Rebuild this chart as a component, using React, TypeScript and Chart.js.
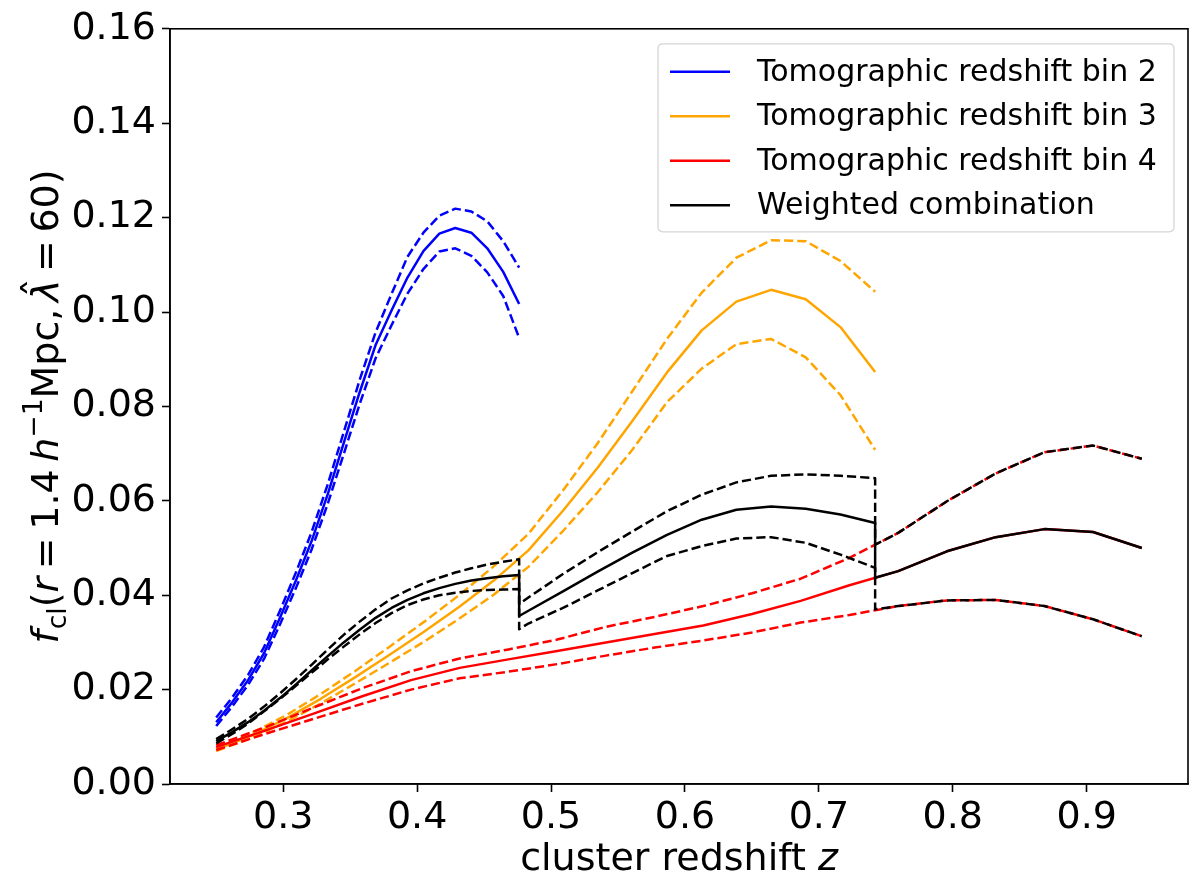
import React, { useEffect, useRef } from "react";
import { Chart, registerables } from "chart.js";

Chart.register(...registerables);

// ---------------- data ----------------
const zBin2 = [0.25, 0.2619, 0.2738, 0.2857, 0.2976, 0.3095, 0.3214, 0.3333, 0.3452, 0.3571, 0.369, 0.3809, 0.3928, 0.4047, 0.4166, 0.4285, 0.4405, 0.4524, 0.4643, 0.4762];
const bin2Mid = [0.0131, 0.0173, 0.022, 0.0277, 0.0352, 0.0431, 0.0516, 0.0614, 0.0722, 0.083, 0.093, 0.1003, 0.1073, 0.1129, 0.1166, 0.1178, 0.1168, 0.1135, 0.1085, 0.1017];
const bin2Hi = [0.0141, 0.0183, 0.0231, 0.029, 0.0367, 0.0448, 0.0535, 0.0635, 0.0745, 0.0856, 0.0957, 0.1038, 0.1117, 0.1168, 0.1204, 0.1219, 0.1213, 0.1192, 0.115, 0.1094];
const bin2Lo = [0.0123, 0.0164, 0.021, 0.0265, 0.0338, 0.0415, 0.0498, 0.0594, 0.0699, 0.0805, 0.0902, 0.0972, 0.1039, 0.1091, 0.1128, 0.1135, 0.1119, 0.1084, 0.1034, 0.0945];

const zBin3 = [0.25, 0.2759, 0.3018, 0.3277, 0.3536, 0.3795, 0.4054, 0.4313, 0.4572, 0.4831, 0.5089, 0.5348, 0.5607, 0.5866, 0.6125, 0.6384, 0.6643, 0.6902, 0.7161, 0.742];
const bin3Mid = [0.0073, 0.0102, 0.0138, 0.018, 0.0226, 0.0274, 0.0323, 0.0375, 0.0431, 0.0495, 0.0579, 0.067, 0.0769, 0.0872, 0.0961, 0.1022, 0.1047, 0.1027, 0.0968, 0.0873];
const bin3Hi = [0.0076, 0.0107, 0.0145, 0.019, 0.0239, 0.0291, 0.0344, 0.04, 0.0461, 0.053, 0.0622, 0.0722, 0.0832, 0.0943, 0.1041, 0.1115, 0.1152, 0.115, 0.1108, 0.1043];
const bin3Lo = [0.007, 0.0097, 0.0131, 0.017, 0.0213, 0.0257, 0.0302, 0.035, 0.0401, 0.046, 0.0536, 0.0618, 0.0708, 0.0809, 0.088, 0.0932, 0.0943, 0.0904, 0.0824, 0.0708];

const zBin4 = [0.25, 0.2864, 0.3227, 0.3591, 0.3955, 0.4318, 0.4682, 0.5046, 0.541, 0.5773, 0.6137, 0.6501, 0.6864, 0.7228, 0.7592, 0.7956, 0.832, 0.8684, 0.9047, 0.9411];
const bin4Mid = [0.0078, 0.0113, 0.0149, 0.0186, 0.022, 0.0246, 0.0264, 0.0282, 0.03, 0.0318, 0.0336, 0.036, 0.0388, 0.0421, 0.0451, 0.0493, 0.0523, 0.054, 0.0534, 0.05];
const bin4Hi = [0.0082, 0.012, 0.0162, 0.0203, 0.0239, 0.0266, 0.0285, 0.0306, 0.0333, 0.0354, 0.0377, 0.0404, 0.0435, 0.0479, 0.0532, 0.0599, 0.0658, 0.0703, 0.0717, 0.0689];
const bin4Lo = [0.0072, 0.0106, 0.0138, 0.017, 0.02, 0.0224, 0.0238, 0.0254, 0.0272, 0.0289, 0.0304, 0.0321, 0.0342, 0.0358, 0.0377, 0.0389, 0.039, 0.0377, 0.0349, 0.0313];

const zComb = [0.25, 0.2619, 0.2738, 0.2857, 0.2976, 0.3095, 0.3214, 0.3333, 0.3452, 0.3571, 0.369, 0.3809, 0.3928, 0.4047, 0.4166, 0.4285, 0.4405, 0.4524, 0.4643, 0.4762,
  0.4762, 0.4831, 0.5089, 0.5348, 0.5607, 0.5866, 0.6125, 0.6384, 0.6643, 0.6902, 0.7161, 0.742,
  0.742, 0.7592, 0.7956, 0.832, 0.8684, 0.9047, 0.9411];
const combMid = [0.0091, 0.011, 0.0131, 0.0155, 0.0182, 0.0211, 0.0241, 0.0271, 0.03, 0.0327, 0.0352, 0.0373, 0.039, 0.0404, 0.0415, 0.0424, 0.0431, 0.0436, 0.044, 0.0443,
  0.0356, 0.0367, 0.0408, 0.045, 0.049, 0.0528, 0.056, 0.0581, 0.0588, 0.0583, 0.0571, 0.0553,
  0.0437, 0.0451, 0.0493, 0.0523, 0.054, 0.0534, 0.05];
const combHi = [0.0095, 0.0116, 0.0138, 0.0164, 0.0192, 0.0222, 0.0253, 0.0285, 0.0316, 0.0344, 0.037, 0.0393, 0.041, 0.0425, 0.0437, 0.0448, 0.0457, 0.0465, 0.0471, 0.0476,
  0.0381, 0.0395, 0.0445, 0.0491, 0.0535, 0.0578, 0.0613, 0.0639, 0.0653, 0.0656, 0.0653, 0.0648,
  0.0507, 0.0532, 0.0599, 0.0658, 0.0703, 0.0717, 0.0689];
const combLo = [0.0086, 0.0106, 0.0128, 0.0154, 0.018, 0.0208, 0.0236, 0.0264, 0.0291, 0.0317, 0.0341, 0.0362, 0.0379, 0.0391, 0.04, 0.0405, 0.0409, 0.0411, 0.0412, 0.0413,
  0.0328, 0.034, 0.0373, 0.041, 0.0447, 0.0483, 0.0504, 0.052, 0.0523, 0.0511, 0.0486, 0.0458,
  0.037, 0.0377, 0.0389, 0.039, 0.0377, 0.0349, 0.0313];

const xTicks = [0.3, 0.4, 0.5, 0.6, 0.7, 0.8, 0.9];
const yTicks = [0, 0.02, 0.04, 0.06, 0.08, 0.1, 0.12, 0.14, 0.16];
const legendLabels = [
  "Tomographic redshift bin 2",
  "Tomographic redshift bin 3",
  "Tomographic redshift bin 4",
  "Weighted combination",
];
const seriesColors = ["#0000ff", "#ffa500", "#ff0000", "#000000"];

// ---------------- helpers ----------------
const FONT = "'DejaVu Sans', sans-serif";
const TICK_PX = 38;
const LEG_PX = 30;
const LW = 2.5;
const DASH = [9.2, 4];

function pts(xs: number[], ys: number[]) {
  return xs.map((x, i) => ({ x, y: ys[i] }));
}

function ds(label: string, xs: number[], ys: number[], color: string, dashed: boolean, order: number) {
  return {
    label,
    data: pts(xs, ys),
    borderColor: color,
    backgroundColor: color,
    borderWidth: LW,
    borderDash: dashed ? DASH : [],
    pointRadius: 0,
    pointHoverRadius: 0,
    tension: 0,
    fill: false,
    order,
    borderCapStyle: "butt" as const,
    borderJoinStyle: "round" as const,
  };
}

type Seg = { t: string; it?: boolean; sc?: "sub" | "sup"; hat?: boolean; dx?: number };

function drawRich(ctx: CanvasRenderingContext2D, segs: Seg[], size: number, cx: number, cy: number, rot: number) {
  const fontFor = (s: Seg) => {
    const sz = s.sc ? size * 0.7 : size;
    return `${s.it ? "oblique " : ""}${sz}px ${FONT}`;
  };
  let total = 0;
  for (const s of segs) {
    ctx.font = fontFor(s);
    total += ctx.measureText(s.t).width + (s.dx || 0) * size;
  }
  ctx.save();
  ctx.translate(cx, cy);
  ctx.rotate(rot);
  ctx.fillStyle = "#000";
  ctx.textBaseline = "alphabetic";
  ctx.textAlign = "left";
  let x = -total / 2;
  const base = size * 0.36;
  for (const s of segs) {
    ctx.font = fontFor(s);
    const w = ctx.measureText(s.t).width;
    let y = base;
    if (s.sc === "sub") y += size * 0.22;
    if (s.sc === "sup") y -= size * 0.4;
    ctx.fillText(s.t, x, y);
    if (s.hat) {
      ctx.font = `${size}px ${FONT}`;
      const hw = ctx.measureText("\u02c6").width;
      ctx.fillText("\u02c6", x + w / 2 - hw / 2 + size * 0.08, y - size * 0.2);
    }
    x += w + (s.dx || 0) * size;
  }
  ctx.restore();
}

const yTitle: Seg[] = [
  { t: "f", it: true, dx: 0.02 },
  { t: "cl", sc: "sub" },
  { t: "(" },
  { t: "r", it: true, dx: 0.2 },
  { t: "=", dx: 0.2 },
  { t: "1.4", dx: 0.2 },
  { t: "h", it: true },
  { t: "\u22121", sc: "sup" },
  { t: "Mpc,", dx: 0.17 },
  { t: "\u03bb", it: true, hat: true, dx: 0.2 },
  { t: "=", dx: 0.2 },
  { t: "60)" },
];
const xTitle: Seg[] = [{ t: "cluster redshift " }, { t: "z", it: true }];

const framePlugin = {
  id: "frameAndText",
  afterDraw(chart: any) {
    const { ctx, chartArea } = chart;
    const { left, right, top, bottom } = chartArea;
    ctx.save();
    // spines
    ctx.strokeStyle = "#000";
    ctx.lineWidth = 1.6;
    ctx.strokeRect(left, top, right - left, bottom - top);

    // legend
    const bx = left + (658 - 170);
    const by = top + 15;
    const bw = 1174 - 658;
    const bh = 188;
    ctx.beginPath();
    const r = 5;
    ctx.moveTo(bx + r, by);
    ctx.lineTo(bx + bw - r, by);
    ctx.quadraticCurveTo(bx + bw, by, bx + bw, by + r);
    ctx.lineTo(bx + bw, by + bh - r);
    ctx.quadraticCurveTo(bx + bw, by + bh, bx + bw - r, by + bh);
    ctx.lineTo(bx + r, by + bh);
    ctx.quadraticCurveTo(bx, by + bh, bx, by + bh - r);
    ctx.lineTo(bx, by + r);
    ctx.quadraticCurveTo(bx, by, bx + r, by);
    ctx.closePath();
    ctx.fillStyle = "rgba(255,255,255,0.8)";
    ctx.fill();
    ctx.strokeStyle = "#d6d6d6";
    ctx.lineWidth = 1.3;
    ctx.stroke();

    ctx.font = `${LEG_PX}px ${FONT}`;
    ctx.textBaseline = "middle";
    ctx.textAlign = "left";
    legendLabels.forEach((lab, i) => {
      const cy = by + 28 + i * 44.5;
      ctx.strokeStyle = seriesColors[i];
      ctx.lineWidth = LW;
      ctx.setLineDash([]);
      ctx.beginPath();
      ctx.moveTo(bx + 12, cy);
      ctx.lineTo(bx + 72, cy);
      ctx.stroke();
      ctx.fillStyle = "#000";
      ctx.fillText(lab, bx + 99, cy + 1);
    });
    ctx.restore();

    // axis titles
    drawRich(ctx, xTitle, TICK_PX, (left + right) / 2, 856, 0);
    drawRich(ctx, yTitle, TICK_PX, 44, (top + bottom) / 2, -Math.PI / 2);
  },
};

export default function App() {
  const ref = useRef<HTMLCanvasElement | null>(null);
  useEffect(() => {
    document.body.style.margin = "0";
    const canvas = ref.current!;
    const chart = new Chart(canvas, {
      type: "line",
      data: {
        datasets: [
          ds(legendLabels[0], zBin2, bin2Mid, seriesColors[0], false, 3),
          ds("bin2 hi", zBin2, bin2Hi, seriesColors[0], true, 3),
          ds("bin2 lo", zBin2, bin2Lo, seriesColors[0], true, 3),
          ds(legendLabels[1], zBin3, bin3Mid, seriesColors[1], false, 2),
          ds("bin3 hi", zBin3, bin3Hi, seriesColors[1], true, 2),
          ds("bin3 lo", zBin3, bin3Lo, seriesColors[1], true, 2),
          ds(legendLabels[2], zBin4, bin4Mid, seriesColors[2], false, 1),
          ds("bin4 hi", zBin4, bin4Hi, seriesColors[2], true, 1),
          ds("bin4 lo", zBin4, bin4Lo, seriesColors[2], true, 1),
          ds(legendLabels[3], zComb, combMid, seriesColors[3], false, 0),
          ds("comb hi", zComb, combHi, seriesColors[3], true, 0),
          ds("comb lo", zComb, combLo, seriesColors[3], true, 0),
        ],
      },
      options: {
        animation: false,
        responsive: false,
        maintainAspectRatio: false,
        devicePixelRatio: 1,
        layout: { padding: { left: 0, right: 12, top: 25, bottom: 0 } },
        plugins: { legend: { display: false }, tooltip: { enabled: false } },
        scales: {
          x: {
            type: "linear",
            min: 0.2155,
            max: 0.9756,
            afterBuildTicks: (s: any) => {
              s.ticks = xTicks.map((v) => ({ value: v }));
            },
            afterFit: (s: any) => {
              s.height = 890 - 784;
            },
            ticks: {
              color: "#000",
              font: { family: FONT, size: TICK_PX },
              padding: 3,
              maxRotation: 0,
              autoSkip: false,
              callback: (v: any) => Number(v).toFixed(1),
            },
            grid: { drawOnChartArea: false, drawTicks: true, tickLength: 8, tickWidth: 1.6, color: "#000" },
            border: { display: true, color: "#000", width: 1.6 },
          },
          y: {
            type: "linear",
            min: 0,
            max: 0.16,
            afterBuildTicks: (s: any) => {
              s.ticks = yTicks.map((v) => ({ value: v }));
            },
            afterFit: (s: any) => {
              s.width = 170;
            },
            ticks: {
              color: "#000",
              font: { family: FONT, size: TICK_PX },
              padding: 6,
              autoSkip: false,
              callback: (v: any) => Number(v).toFixed(2),
            },
            grid: { drawOnChartArea: false, drawTicks: true, tickLength: 8, tickWidth: 1.6, color: "#000" },
            border: { display: true, color: "#000", width: 1.6 },
          },
        },
      },
      plugins: [framePlugin],
    });
    return () => chart.destroy();
  }, []);
  return (
    <div style={{ width: 1200, height: 890, background: "#fff" }}>
      <canvas ref={ref} width={1200} height={890} style={{ display: "block", width: 1200, height: 890 }} />
    </div>
  );
}
